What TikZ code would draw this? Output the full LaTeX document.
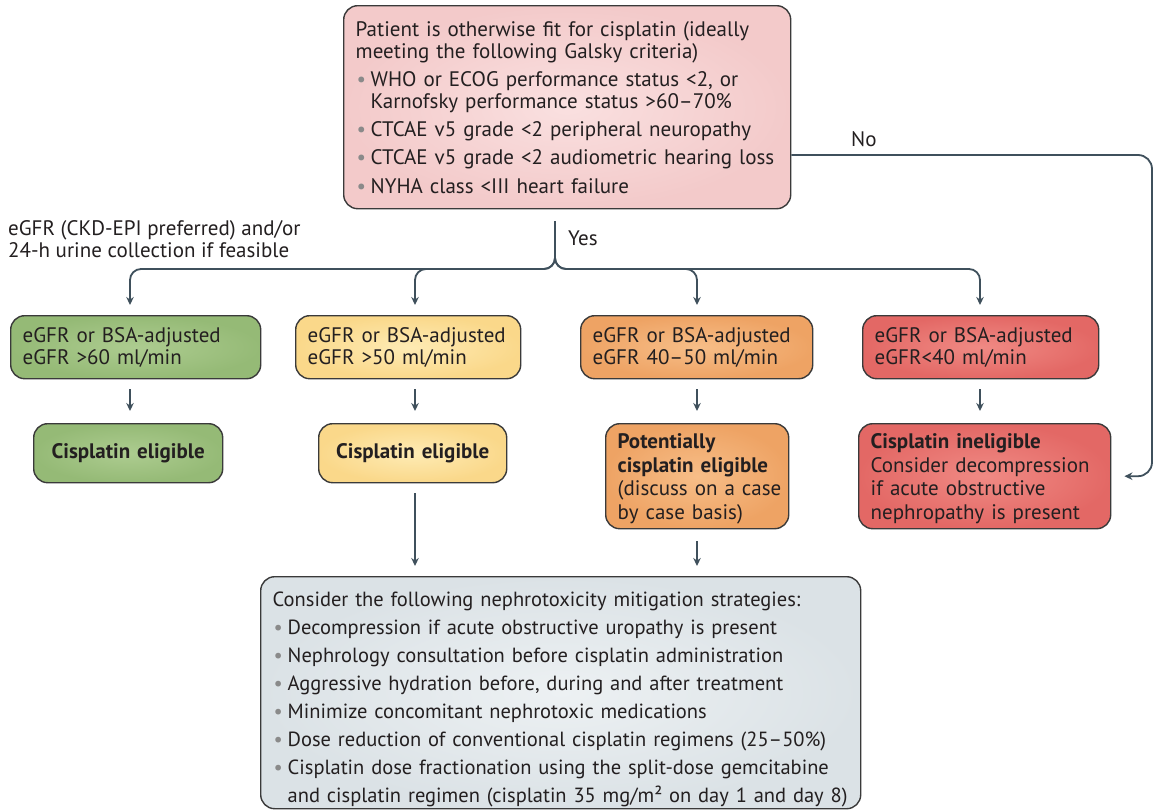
\documentclass[tikz,border=0pt]{standalone}
\usepackage{fontspec}
\setmainfont{PT Sans}
\usetikzlibrary{arrows.meta,calc}
\definecolor{txt}{HTML}{231F20}
\definecolor{edge}{HTML}{3A3A3A}
\definecolor{arrc}{HTML}{3F505C}
\definecolor{bulgray}{HTML}{8A8A8A}
\definecolor{pinkin}{HTML}{FAE0E0}\definecolor{pinkout}{HTML}{F3CACA}
\definecolor{grnin}{HTML}{ADCC90}\definecolor{grnout}{HTML}{95BA76}
\definecolor{yelin}{HTML}{FEEBB4}\definecolor{yelout}{HTML}{FAD88A}
\definecolor{orgin}{HTML}{F7BE88}\definecolor{orgout}{HTML}{EEA364}
\definecolor{redin}{HTML}{F08A84}\definecolor{redout}{HTML}{E36865}
\definecolor{gryin}{HTML}{EDF1F3}\definecolor{gryout}{HTML}{DBE2E6}
\newcommand\bul{\makebox[15pt][l]{\hspace{1pt}\textcolor{bulgray}{\textbullet}}}
\newcommand\bulsp{\hspace*{15pt}}
\newcommand\tb[2][0pt]{\begin{tabular}{@{}l@{}}#2\end{tabular}\vspace*{#1}}
\tikzset{
  box/.style={draw=edge, line width=1.4pt, rounded corners=14pt, anchor=north west,
    align=left, text=txt, inner xsep=12pt, inner ysep=0pt,
    font=\fontsize{21}{22}\selectfont},
  arr/.style={draw=arrc, line width=1.8pt, -{Stealth[length=8pt,width=7.5pt]}},
  lab/.style={text=txt, inner sep=0pt, anchor=base west, align=left,
    font=\fontsize{21}{22}\selectfont},
  pinkf/.style={inner color=pinkin, outer color=pinkout},
  grnf/.style={inner color=grnin, outer color=grnout},
  yelf/.style={inner color=yelin, outer color=yelout},
  orgf/.style={inner color=orgin, outer color=orgout},
  redf/.style={inner color=redin, outer color=redout},
  gryf/.style={inner color=gryin, outer color=gryout},
}
\begin{document}
\begin{tikzpicture}[x=1pt,y=-1pt]
\useasboundingbox[fill=white] (0,0) rectangle (1156,811);

% top box
\node[box, pinkf, minimum height=203pt, text width=423pt] (top) at (343,5) {\tb[-6pt]{%
Patient is otherwise fit for cisplatin (ideally\\
meeting the following Galsky criteria)\\[6pt]
\bul WHO or ECOG performance status <2, or\\
\bulsp Karnofsky performance status >60–70\%\\[6pt]
\bul CTCAE v5 grade <2 peripheral neuropathy\\[6.5pt]
\bul CTCAE v5 grade <2 audiometric hearing loss\\[6.5pt]
\bul NYHA class <III heart failure}};

\node[lab] (egfr) at (8,257) {eGFR (CKD-EPI preferred) and/or\\24-h urine collection if feasible};
\node[lab] (yes) at (568,245) {Yes};
\node[lab] (no) at (851,146) {No};

% row 1
\node[box, grnf, minimum height=63pt, text width=226pt] (g1) at (10,315) {\tb[-4pt]{eGFR or BSA-adjusted\\eGFR >60 ml/min}};
\node[box, yelf, minimum height=63pt, text width=201pt] (y1) at (295,315) {\tb[-4pt]{eGFR or BSA-adjusted\\eGFR >50 ml/min}};
\node[box, orgf, minimum height=63pt, text width=208pt] (o1) at (580,315) {\tb[-4pt]{eGFR or BSA-adjusted\\eGFR 40–50 ml/min}};
\node[box, redf, minimum height=63pt, text width=212pt] (r1) at (862,315) {\tb[-4pt]{eGFR or BSA-adjusted\\eGFR<40 ml/min}};

% row 2
\node[box, grnf, minimum height=59pt, text width=165pt, align=center] (g2) at (33,423) {\textbf{Cisplatin eligible}};
\node[box, yelf, minimum height=59pt, text width=164pt, align=center] (y2) at (318,423) {\textbf{Cisplatin eligible}};
\node[box, orgf, minimum height=105pt, text width=159pt, font=\fontsize{21}{23.8}\selectfont] (o2) at (605,423) {\tb[-6pt]{\textbf{Potentially}\\\textbf{cisplatin eligible}\\(discuss on a case\\by case basis)}};
\node[box, redf, minimum height=105pt, text width=228pt, font=\fontsize{21}{23.8}\selectfont] (r2) at (858,423) {\tb[-6pt]{\textbf{Cisplatin ineligible}\\Consider decompression\\if acute obstructive\\nephropathy is present}};

% bottom box
\node[box, gryf, minimum height=232pt, text width=576pt, font=\fontsize{20.5}{28}\selectfont] (bot) at (260,576) {\tb[-12pt]{%
Consider the following nephrotoxicity mitigation strategies:\\
\bul Decompression if acute obstructive uropathy is present\\
\bul Nephrology consultation before cisplatin administration\\
\bul Aggressive hydration before, during and after treatment\\
\bul Minimize concomitant nephrotoxic medications\\
\bul Dose reduction of conventional cisplatin regimens (25–50\%)\\
\bul Cisplatin dose fractionation using the split-dose gemcitabine\\
\bulsp and cisplatin regimen (cisplatin 35 mg/m² on day 1 and day 8)}};

% coordinates
\coordinate (trunk) at (555,221);
\coordinate (bx1) at (130,269);
\coordinate (bx2) at (415,269);
\coordinate (bx3) at (697,269);
\coordinate (bx4) at (980,269);
\coordinate (noy) at (0,155);
\coordinate (nox) at (1152,0);

% yes branches
\draw[arr, rounded corners=11pt, shorten >=10pt] (trunk) |- (bx1) -- (bx1 |- g1.north);
\draw[arr, rounded corners=11pt, shorten >=10pt] (trunk) |- (bx2) -- (bx2 |- y1.north);
\draw[arr, rounded corners=11pt, shorten >=10pt] (trunk) |- (bx3) -- (bx3 |- o1.north);
\draw[arr, rounded corners=11pt, shorten >=10pt] (trunk) |- (bx4) -- (bx4 |- r1.north);

% row1 -> row2
\draw[arr, shorten <=10pt, shorten >=12pt] (bx1 |- g1.south) -- (bx1 |- g2.north);
\draw[arr, shorten <=10pt, shorten >=12pt] (bx2 |- y1.south) -- (bx2 |- y2.north);
\draw[arr, shorten <=10pt, shorten >=12pt] (bx3 |- o1.south) -- (bx3 |- o2.north);
\draw[arr, shorten <=10pt, shorten >=12pt] (bx4 |- r1.south) -- (bx4 |- r2.north);

% row2 -> bottom
\draw[arr, shorten <=10pt, shorten >=10pt] (bx2 |- y2.south) -- (bx2 |- bot.north);
\draw[arr, shorten <=12pt, shorten >=10pt] (bx3 |- o2.south) -- (bx3 |- bot.north);

% no path
\draw[arr, rounded corners=14pt, shorten >=13pt] (top.east |- noy) -| (nox |- r2.east) -- (r2.east);
\end{tikzpicture}
\end{document}
